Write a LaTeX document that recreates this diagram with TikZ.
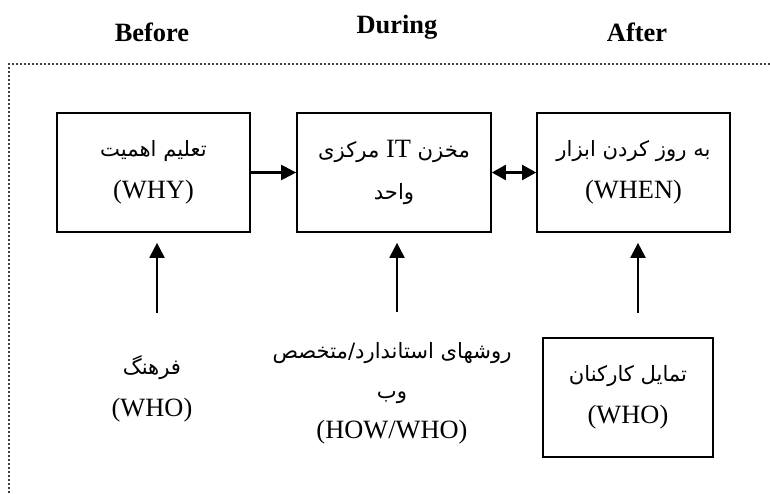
\documentclass[tikz,border=0pt]{standalone}
\usepackage{fontspec}
\setmainfont{Liberation Serif}
\newfontfamily\farsifont[Script=Arabic,Scale=0.8]{DejaVu Sans}
\TeXXeTstate=1
\usetikzlibrary{arrows.meta,positioning}

\newcommand{\fa}[1]{{\farsifont\beginR #1\endR}}

\begin{document}
\begin{tikzpicture}[
    x=0.5pt, y=-0.5pt,
    font=\fontsize{13.2}{21}\selectfont,
    box/.style={rectangle, draw, line width=0.85pt, minimum width=96.5pt, minimum height=59.5pt, align=center, inner sep=0pt},
    txt/.style={align=center, inner sep=0pt},
    title/.style={font=\fontsize{13.2}{16}\selectfont\bfseries},
    arrow/.style={-{Triangle[length=7.5pt,width=7.5pt]}, line width=1.1pt},
    dblarrow/.style={{Triangle[length=7pt,width=7.5pt]}-{Triangle[length=7pt,width=7.5pt]}, line width=1.1pt},
    frame/.style={densely dotted, line width=1pt, black!75}
    ]
    \useasboundingbox (0,0) rectangle (770,493);

    % Titulos de fase
    \node[title] (before) at (152,32) {Before};
    \node[title] (during) at (397,27) {During};
    \node[title] (after) at (637,32) {After};

    % Marco punteado
    \draw[frame] (9,493) -- (9,64) -- (770,64);

    % Cajas principales
    \node[box] (why) at (153.5,172.5) {\fa{تعلیم اهمیت}\\(WHY)};
    \node[box, minimum width=97pt] (hub) at (394,172.5) {{\farsifont\beginR مخزن \beginL{\normalfont IT}\endL{} مرکزی\endR}\\\fa{واحد}};
    \node[box] (when) at (633.5,172.5) {\fa{به روز کردن ابزار}\\(WHEN)};

    % Entradas inferiores
    \node[txt] (culture) at (152,389) {\fa{فرهنگ}\\(WHO)};
    \node[txt, font=\fontsize{13.2}{20}\selectfont] (methods) at (392,393) {\fa{روشهای استاندارد/متخصص}\\\fa{وب}\\(HOW/WHO)};
    \node[box, minimum width=85pt] (staff) at (628,397.5) {\fa{تمایل کارکنان}\\(WHO)};

    % Puntos de arranque de las flechas
    \coordinate (a1) at (157,313);
    \coordinate (a2) at (397,312);
    \coordinate (a3) at (638,313);

    % Flechas horizontales
    \draw[arrow] (why.east) -- (hub.west);
    \draw[dblarrow] (hub.east) -- (when.west);

    % Flechas verticales
    \draw[arrow, shorten >=5pt] (a1) -- (a1 |- why.south);
    \draw[arrow, shorten >=5pt] (a2) -- (a2 |- hub.south);
    \draw[arrow, shorten >=5pt] (a3) -- (a3 |- when.south);

\end{tikzpicture}
\end{document}
